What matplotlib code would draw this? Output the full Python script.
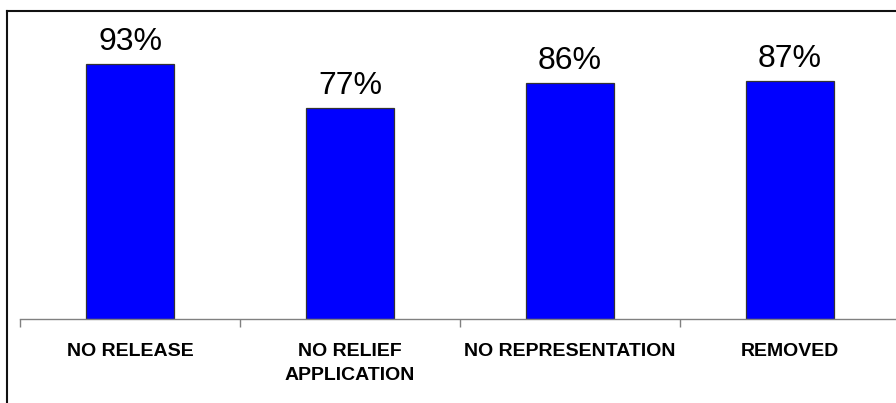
import matplotlib.pyplot as plt
from matplotlib.lines import Line2D

categories = ['NO RELEASE', 'NO RELIEF\nAPPLICATION', 'NO REPRESENTATION', 'REMOVED']
percents = [93, 77, 86, 87]

W, H = 896, 403
fig = plt.figure(figsize=(W / 100, H / 100), dpi=100)
plt.rcParams['font.family'] = ['Liberation Sans', 'DejaVu Sans']

# axes placed in pixel terms: baseline at y=319, 100% at y=45, x from 20 to 900
ax = fig.add_axes([20 / W, (H - 319) / H, 880 / W, 274 / H])

x = range(len(categories))
ax.bar(x, percents, width=0.4, color='#0000ff', edgecolor='#333333', linewidth=0.9)

for i, v in enumerate(percents):
    ax.annotate(f'{v}%', (i, v), xytext=(0, 5), textcoords='offset points',
                ha='center', va='bottom', fontsize=23)

ax.set_xlim(-0.5, len(categories) - 0.5)
ax.set_ylim(0, 100)

for s in ['top', 'right', 'left']:
    ax.spines[s].set_visible(False)
ax.spines['bottom'].set_color('#808080')
ax.spines['bottom'].set_linewidth(1)

ax.set_yticks([])
ax.set_xticks(list(x))
ax.set_xticklabels(categories, fontsize=14, fontweight='bold', linespacing=1.55)
ax.tick_params(axis='x', which='major', length=0, pad=17)
ax.set_xticks([i - 0.5 for i in range(len(categories) + 1)], minor=True)
ax.tick_params(axis='x', which='minor', length=6, color='#808080', width=1)
for lbl in ax.get_xticklabels():
    lbl.set_verticalalignment('top')

# outer frame, running off the right and bottom edges
fig.add_artist(Line2D([6.5 / W, 6.5 / W], [0, (H - 11) / H], color='#111111', lw=1.5))
fig.add_artist(Line2D([6.5 / W, 1], [(H - 11) / H, (H - 11) / H], color='#111111', lw=1.5))

fig.savefig('out.png', dpi=100)
